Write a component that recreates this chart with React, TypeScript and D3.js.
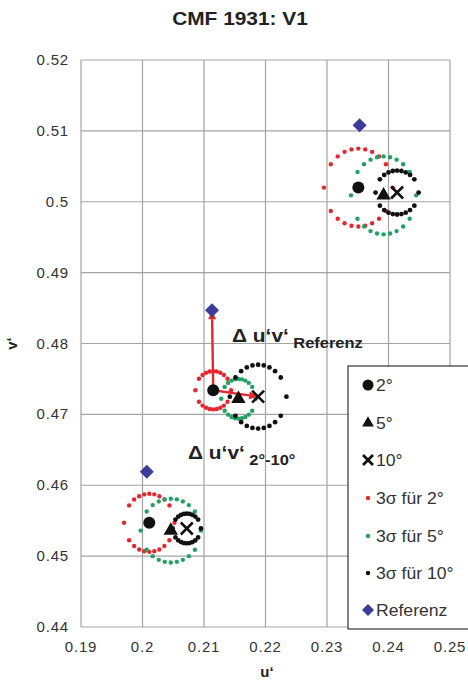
import React from "react";
import * as d3 from "d3";

// Axis ticks
const uTicks = [0.19, 0.2, 0.21, 0.22, 0.23, 0.24, 0.25];
const vTicks = [0.44, 0.45, 0.46, 0.47, 0.48, 0.49, 0.5, 0.51, 0.52];

// Mean chromaticities (u', v') for the three samples
const mean2 = [
  [0.2011, 0.4547],
  [0.2115, 0.4734],
  [0.2351, 0.502],
];
const mean5 = [
  [0.2046, 0.4536],
  [0.2156, 0.4722],
  [0.2392, 0.5009],
];
const mean10 = [
  [0.2072, 0.4539],
  [0.2188, 0.4725],
  [0.2414, 0.5013],
];
const referenz = [
  [0.2007, 0.4619],
  [0.2113, 0.4847],
  [0.2353, 0.5108],
];

// 3-sigma half axes (u, v) per sample
const sigma2 = [
  [0.0041, 0.0041],
  [0.0029, 0.0027],
  [0.0056, 0.0055],
];
const sigma5 = [
  [0.0049, 0.0045],
  [0.0028, 0.0028],
  [0.0053, 0.0055],
];
const sigma10 = [
  [0.0023, 0.0021],
  [0.0046, 0.0045],
  [0.0035, 0.0031],
];

const legendLabels = ["2°", "5°", "10°", "3σ für 2°", "3σ für 5°", "3σ für 10°", "Referenz"];

const W = 468;
const H = 682;
const RED = "#e5262e";
const GREEN = "#23a064";
const BLUE = "#3c3c9c";
const FONT = "'Liberation Sans', Arial, sans-serif";

const x = d3.scaleLinear().domain([0.19, 0.25]).range([81, 450]);
const y = d3.scaleLinear().domain([0.44, 0.52]).range([627, 60]);

// Contour points sampled at equal steps in u'
const STEPS = 10;
function contour(c: number[], r: number[]): number[][] {
  const pts: number[][] = [];
  for (let i = 0; i <= STEPS; i++) {
    const t = -1 + (2 * i) / STEPS;
    const dv = r[1] * Math.sqrt(Math.max(0, 1 - t * t));
    const u = c[0] + r[0] * t;
    pts.push([u, c[1] + dv]);
    if (dv > 1e-9) pts.push([u, c[1] - dv]);
  }
  return pts;
}

const triPath = d3.symbol(d3.symbolTriangle, 90)();
const diamondPath = (s: number) => `M0,${-s}L${s},0L0,${s}L${-s},0Z`;

function Cross({ cx, cy, s = 6 }: { cx: number; cy: number; s?: number }) {
  return (
    <g stroke="#111" strokeWidth={2.6} strokeLinecap="butt">
      <line x1={cx - s} y1={cy - s} x2={cx + s} y2={cy + s} />
      <line x1={cx - s} y1={cy + s} x2={cx + s} y2={cy - s} />
    </g>
  );
}

function Arrow({ from, to }: { from: number[]; to: number[] }) {
  const x1 = x(from[0]);
  const y1 = y(from[1]);
  const x2 = x(to[0]);
  const y2 = y(to[1]);
  const ang = Math.atan2(y2 - y1, x2 - x1);
  const L = 9;
  const Wd = 4;
  const bx = x2 - L * Math.cos(ang);
  const by = y2 - L * Math.sin(ang);
  const px = -Math.sin(ang) * Wd;
  const py = Math.cos(ang) * Wd;
  return (
    <g>
      <line x1={x1} y1={y1} x2={bx} y2={by} stroke={RED} strokeWidth={2.4} />
      <path d={`M${x2},${y2}L${bx + px},${by + py}L${bx - px},${by - py}Z`} fill={RED} />
    </g>
  );
}

export default function App() {
  const legendY = [385, 423, 460, 498, 536, 573, 610];
  return (
    <svg
      width={W}
      height={H}
      style={{ position: "absolute", left: 0, top: 0, background: "#fff" }}
      fontFamily={FONT}
    >
      <rect width={W} height={H} fill="#fff" />
      <text
        transform="translate(240,25) scale(1.16,1)"
        textAnchor="middle"
        fontSize={18}
        fontWeight="bold"
        fill="#222"
      >
        CMF 1931: V1
      </text>

      {/* grid */}
      <g stroke="#a3a3a3" strokeWidth={1.2}>
        {uTicks.map((t) => (
          <line key={"gu" + t} x1={x(t)} x2={x(t)} y1={y(0.52)} y2={y(0.44)} />
        ))}
        {vTicks.map((t) => (
          <line key={"gv" + t} x1={x(0.19)} x2={x(0.25)} y1={y(t)} y2={y(t)} />
        ))}
      </g>

      {/* tick labels */}
      <g fontSize={15} fill="#333" letterSpacing={0.8}>
        {vTicks.map((t) => (
          <text key={"lv" + t} x={69} y={y(t) + 5} textAnchor="end">
            {d3.format("~g")(t)}
          </text>
        ))}
        {uTicks.map((t) => (
          <text key={"lu" + t} x={x(t)} y={652} textAnchor="middle">
            {d3.format("~g")(t)}
          </text>
        ))}
      </g>
      <text x={267} y={677} textAnchor="middle" fontSize={15} fontWeight="bold" fill="#222">
        u‘
      </text>
      <text
        transform={`translate(17,${y(0.48)}) rotate(-90)`}
        textAnchor="middle"
        fontSize={15}
        fontWeight="bold"
        fill="#222"
      >
        v‘
      </text>

      {/* 3-sigma contours */}
      {mean2.map((c, i) =>
        contour(c, sigma2[i]).map((p, j) => (
          <circle key={`r${i}-${j}`} cx={x(p[0])} cy={y(p[1])} r={2.2} fill={RED} />
        ))
      )}
      {mean5.map((c, i) =>
        contour(c, sigma5[i]).map((p, j) => (
          <circle key={`g${i}-${j}`} cx={x(p[0])} cy={y(p[1])} r={2.2} fill={GREEN} />
        ))
      )}
      {mean10.map((c, i) =>
        contour(c, sigma10[i]).map((p, j) => (
          <circle key={`k${i}-${j}`} cx={x(p[0])} cy={y(p[1])} r={2.4} fill="#111" />
        ))
      )}

      {/* differences */}
      <Arrow from={mean2[1]} to={referenz[1]} />
      <Arrow from={mean2[1]} to={mean10[1]} />

      {/* means */}
      {mean2.map((c, i) => (
        <circle key={"m2" + i} cx={x(c[0])} cy={y(c[1])} r={6} fill="#111" />
      ))}
      {mean5.map((c, i) => (
        <path key={"m5" + i} d={triPath!} transform={`translate(${x(c[0])},${y(c[1])})`} fill="#111" />
      ))}
      {mean10.map((c, i) => (
        <Cross key={"m10" + i} cx={x(c[0])} cy={y(c[1])} />
      ))}
      {referenz.map((c, i) => (
        <path key={"ref" + i} d={diamondPath(7)} transform={`translate(${x(c[0])},${y(c[1])})`} fill={BLUE} />
      ))}

      {/* annotations */}
      <text transform="translate(232,342) scale(1.1,1)" fontWeight="bold" fill="#222">
        <tspan fontSize={19}>Δ u‘v‘</tspan>
        <tspan fontSize={15} dx={4} dy={6}>Referenz</tspan>
      </text>
      <text transform="translate(188,459) scale(1.1,1)" fontWeight="bold" fill="#222">
        <tspan fontSize={19}>Δ u‘v‘</tspan>
        <tspan fontSize={15} dx={4} dy={6}>2°-10°</tspan>
      </text>

      {/* legend */}
      <rect x={348} y={366} width={130} height={263} fill="#fff" stroke="#333" strokeWidth={1.2} />
      <g fontSize={16} fill="#333">
        <circle cx={368} cy={legendY[0]} r={5.5} fill="#111" />
        <path d={d3.symbol(d3.symbolTriangle, 60)()!} transform={`translate(368,${legendY[1]})`} fill="#111" />
        <Cross cx={368} cy={legendY[2]} s={5} />
        <circle cx={368} cy={legendY[3]} r={2.2} fill={RED} />
        <circle cx={368} cy={legendY[4]} r={2.2} fill={GREEN} />
        <circle cx={368} cy={legendY[5]} r={2.2} fill="#111" />
        <path d={diamondPath(6)} transform={`translate(368,${legendY[6]})`} fill={BLUE} />
        {legendLabels.map((l, i) => (
          <text key={l} transform={`translate(376,${legendY[i] + 6}) scale(1.1,1)`}>
            {l}
          </text>
        ))}
      </g>
    </svg>
  );
}
